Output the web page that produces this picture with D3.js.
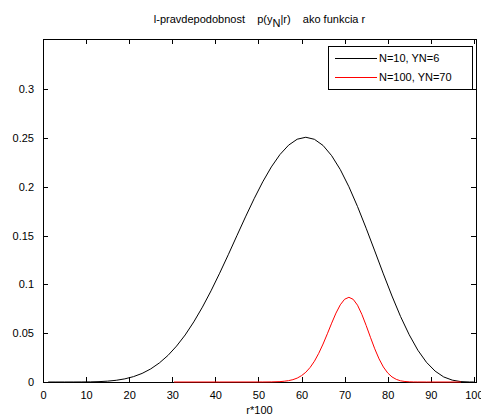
<!DOCTYPE html>
<html>
<head>
<meta charset="utf-8">
<script src="https://cdn.jsdelivr.net/npm/d3@7"></script>
<style>
  body { margin: 0; background: #fff; }
  svg text { font-family: "Liberation Sans", Arial, sans-serif; font-size: 11px; fill: #000; }
</style>
</head>
<body>
<svg id="plot"></svg>
<script>
// r*100 positions (as plotted) and likelihood values
var blackR = [1.2, 3, 5, 7, 9, 11, 13, 15, 17, 19, 21, 23, 25, 27, 29, 31, 33, 35, 37, 39, 41,
  43, 45, 47, 49, 51, 53, 55, 57, 59, 61, 63, 65, 67, 69, 71, 73, 75, 77, 79, 81,
  83, 85, 87, 89, 91, 93, 95, 97, 99, 100];
var blackL = [0, 0, 0, 0.00001, 0.00005, 0.00014, 0.00038, 0.00087, 0.00176, 0.00323, 0.0055,
  0.0088, 0.0134, 0.0195, 0.0272, 0.0368, 0.0482, 0.0616, 0.0767, 0.0934, 0.1115,
  0.1304, 0.1499, 0.1692, 0.1878, 0.2051, 0.2204, 0.2331, 0.2427, 0.2488, 0.2508,
  0.2487, 0.2424, 0.2319, 0.2177, 0.2001, 0.1798, 0.1576, 0.1343, 0.1108, 0.0881,
  0.0670, 0.0484, 0.0326, 0.0202, 0.0112, 0.0052, 0.0019, 0.0004, 0.00003, 0];

var redR = [30.4, 41, 51, 53, 55, 56, 57, 58, 59, 60, 61, 62, 63, 64, 65, 66, 67, 68, 69, 70, 71,
  72, 73, 74, 75, 76, 77, 78, 79, 80, 81, 82, 83, 84, 85, 86, 87, 89, 91, 97];
var redL = [0, 0, 0.00002, 0.0001, 0.0004, 0.0008, 0.0014, 0.0024, 0.0040, 0.0065, 0.0100,
  0.0149, 0.0213, 0.0294, 0.0389, 0.0494, 0.0603, 0.0706, 0.0791, 0.0848, 0.0868,
  0.0847, 0.0787, 0.0694, 0.0580, 0.0458, 0.0340, 0.0237, 0.0154, 0.0093, 0.0052,
  0.0027, 0.0012, 0.0005, 0.0002, 0.00006, 0.00002, 0, 0, 0];

var xTicks = [0, 10, 20, 30, 40, 50, 60, 70, 80, 90, 100];
var yTicks = [0, 0.05, 0.1, 0.15, 0.2, 0.25, 0.3];
var yTickLabels = ['0', '0.05', '0.1', '0.15', '0.2', '0.25', '0.3'];
var legendLabels = ['N=10, YN=6', 'N=100, YN=70'];
var colors = ['#000000', '#ff0000'];

function plot(){
  var width = 481, height = 416;
  var left = 43, right = 476, mTop = 39, bottom = 382;

  var svg = d3.select('#plot')
    .attr('width', width)
    .attr('height', height);

  var xScale = d3.scaleLinear().domain([0, 100.5]).range([left, right]);
  var yScale = d3.scaleLinear().domain([0, 0.3515]).range([bottom, mTop]);

  // axes box
  svg.append('rect')
    .attr('x', left).attr('y', mTop)
    .attr('width', right - left).attr('height', bottom - mTop)
    .attr('fill', '#fff').attr('stroke', '#000').attr('stroke-width', 1)
    .attr('shape-rendering', 'crispEdges');

  var xAxis = d3.axisBottom(xScale).tickValues(xTicks).tickSize(-5).tickSizeOuter(0).tickPadding(9);
  var xAxisTop = d3.axisTop(xScale).tickValues(xTicks).tickSize(-5).tickSizeOuter(0).tickFormat('');
  var yAxis = d3.axisLeft(yScale).tickValues(yTicks).tickSize(-5).tickSizeOuter(0).tickPadding(9)
    .tickFormat((d, i) => yTickLabels[i]);
  var yAxisRight = d3.axisRight(yScale).tickValues(yTicks).tickSize(-5).tickSizeOuter(0).tickFormat('');

  [
    [xAxis, 'translate(0,' + bottom + ')'],
    [xAxisTop, 'translate(0,' + mTop + ')'],
    [yAxis, 'translate(' + left + ',0)'],
    [yAxisRight, 'translate(' + right + ',0)']
  ].forEach(function(a){
    var g = svg.append('g').attr('transform', a[1]).call(a[0]);
    g.attr('font-size', null).attr('font-family', null);
    g.select('.domain').attr('stroke', '#000').attr('shape-rendering', 'crispEdges');
    g.selectAll('.tick line').attr('stroke', '#000').attr('shape-rendering', 'crispEdges');
  });

  var line = d3.line()
    .x(d => xScale(d[0]))
    .y(d => yScale(d[1]));

  svg.append('path')
    .datum(d3.zip(blackR, blackL))
    .attr('fill', 'none').attr('stroke', colors[0]).attr('stroke-width', 1)
    .attr('d', line);
  svg.append('path')
    .datum(d3.zip(redR, redL))
    .attr('fill', 'none').attr('stroke', colors[1]).attr('stroke-width', 1)
    .attr('d', line);

  // title
  var title = svg.append('text')
    .attr('x', (left + right) / 2)
    .attr('y', 23)
    .style('text-anchor', 'middle')
    .style('white-space', 'pre');
  title.append('tspan').text('l-pravdepodobnost    p(y');
  title.append('tspan').attr('dy', 4).text('N');
  title.append('tspan').attr('dy', -4).text('|r)    ako funkcia r');

  svg.append('text')
    .attr('x', (left + right) / 2)
    .attr('y', 414)
    .style('text-anchor', 'middle')
    .text('r*100');

  // legend
  var legend = svg.append('g');
  legend.append('rect')
    .attr('x', 328).attr('y', 46).attr('width', 144).attr('height', 43)
    .attr('fill', '#fff').attr('stroke', '#000')
    .attr('shape-rendering', 'crispEdges');
  legendLabels.forEach(function(label, i){
    var y = 58 + i * 19;
    legend.append('line')
      .attr('x1', 335).attr('x2', 377).attr('y1', y).attr('y2', y)
      .attr('stroke', colors[i]).attr('shape-rendering', 'crispEdges');
    legend.append('text')
      .attr('x', 379).attr('y', y + 4)
      .text(label);
  });
}

plot();
</script>
</body>
</html>
